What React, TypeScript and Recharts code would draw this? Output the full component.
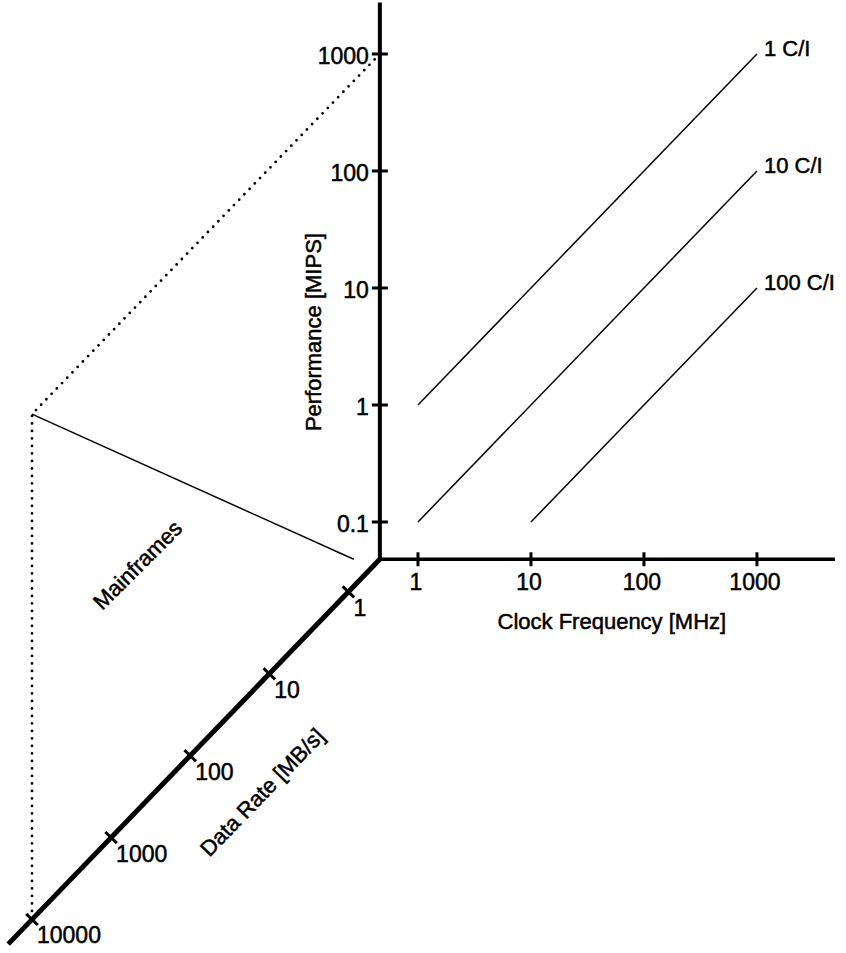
import { ComposedChart, XAxis, YAxis, Line, Scatter } from "recharts";

// tick values on the three log axes
const clockTicks = [1, 10, 100, 1000]; // MHz
const perfTicks = [0.1, 1, 10, 100, 1000]; // MIPS
const rateTicks = [1, 10, 100, 1000, 10000]; // MB/s

// where the axes meet, and how far each one runs
const clockRange = [0.46, 4900];
const perfRange = [0.048, 2750];
const rateRange = [0.4, 20000];

// cycles per instruction lines: MIPS = MHz / CPI
const cpiLabels = ["1 C/I", "10 C/I", "100 C/I"];
const cpiValues = [1, 10, 100];
const cpiClockFrom = [1, 1, 10];
const cpiClockTo = [1000, 1000, 1000];

// mainframes corner
const mainframePerf = 1000;
const mainframeRate = 10000;
const mainframeTailClock = 0.27;

const FONT = '"Liberation Sans", Arial, Helvetica, sans-serif';
const SKEW = 0.7; // plane decades moved per decade of data rate
const lg = Math.log10;

// project (MHz, MIPS, MB/s) onto the drawing plane, in decades
function pt(mhz: number, mips: number, mbs: number = rateRange[0]) {
  const d = SKEW * (lg(mbs) - lg(rateRange[0]));
  return { x: lg(mhz) - d, y: lg(mips) - d };
}

const fmt = (v: number) => String(v);

// scanned original has heavy type, thicken a little
const textStyle = { fontFamily: FONT, fill: "#000", stroke: "#000", strokeWidth: 0.5 };

function PerfTick(p: any) {
  const { cx, cy, payload } = p;
  return (
    <g>
      <line x1={cx - 8} y1={cy} x2={cx + 8} y2={cy} stroke="#000" strokeWidth={3} />
      <text x={cx - 11} y={cy + 10} textAnchor="end" fontSize={23} {...textStyle}>
        {payload.label}
      </text>
    </g>
  );
}

function ClockTick(p: any) {
  const { cx, cy, payload } = p;
  return (
    <g>
      <line x1={cx} y1={cy - 7} x2={cx} y2={cy + 7} stroke="#000" strokeWidth={3} />
      <text x={cx - 2} y={cy + 31} textAnchor="middle" fontSize={23} {...textStyle}>
        {payload.label}
      </text>
    </g>
  );
}

function RateTick(p: any) {
  const { cx, cy, payload } = p;
  const nx = 0.721 * 8;
  const ny = 0.693 * 8;
  return (
    <g>
      <line x1={cx - nx} y1={cy - ny} x2={cx + nx} y2={cy + ny} stroke="#000" strokeWidth={3} />
      <text x={cx + 5} y={cy + 24} textAnchor="start" fontSize={23} {...textStyle}>
        {payload.label}
      </text>
    </g>
  );
}

function Caption(p: any) {
  const { cx, cy, payload } = p;
  const x = cx + (payload.dx || 0);
  const y = cy + (payload.dy || 0);
  return (
    <text
      x={x}
      y={y}
      textAnchor={payload.anchor || "start"}
      transform={payload.angle ? `rotate(${payload.angle} ${x} ${y})` : undefined}
      fontSize={22}
      {...textStyle}
    >
      {payload.text}
    </text>
  );
}

export default function App() {
  const c0 = clockRange[0];
  const p0 = perfRange[0];
  const origin = pt(c0, p0);

  const clockAxis = [origin, pt(clockRange[1], p0)];
  const perfAxis = [origin, pt(c0, perfRange[1])];
  const rateAxis = [origin, pt(c0, p0, rateRange[1])];

  const cpiLines = cpiValues.map((c, i) => [
    pt(cpiClockFrom[i], cpiClockFrom[i] / c),
    pt(cpiClockTo[i], cpiClockTo[i] / c),
  ]);

  const corner = pt(c0, mainframePerf, mainframeRate);
  const dotted = [pt(c0, mainframePerf), corner, pt(c0, p0, mainframeRate)];
  const mainframeLine = [corner, pt(mainframeTailClock, p0)];

  const perfTickData = perfTicks.map((t) => ({ ...pt(c0, t), label: fmt(t) }));
  const clockTickData = clockTicks.map((t) => ({ ...pt(t, p0), label: fmt(t) }));
  const rateTickData = rateTicks.map((t) => ({ ...pt(c0, p0, t), label: fmt(t) }));

  const captions = [
    ...cpiLabels.map((text, i) => ({
      ...pt(cpiClockTo[i], cpiClockTo[i] / cpiValues[i]),
      text,
      dx: 7,
      dy: 2,
    })),
    { ...pt(c0, 4.2), text: "Performance [MIPS]", dx: -59, dy: 0, angle: -90, anchor: "middle" },
    { ...pt(52, p0), text: "Clock Frequency [MHz]", dx: 0, dy: 70, anchor: "middle" },
    { ...pt(c0, p0, 60), text: "Data Rate [MB/s]", dx: 60, dy: 60, angle: -46, anchor: "middle" },
    { ...pt(c0, p0, 13.5), text: "Mainframes", dx: -116, dy: -114, angle: -45, anchor: "middle" },
  ];

  return (
    <div style={{ position: "absolute", left: 0, top: 0, background: "#fff" }}>
      <ComposedChart width={846} height={953} margin={{ top: 0, right: 0, bottom: 0, left: 0 }}>
        <XAxis type="number" dataKey="x" domain={[-3.699, 3.788]} allowDataOverflow hide />
        <YAxis type="number" dataKey="y" domain={[-4.684, 3.4615]} allowDataOverflow hide />

        <Line data={perfAxis} dataKey="y" stroke="#000" strokeWidth={4} dot={false} activeDot={false} isAnimationActive={false} />
        <Line data={clockAxis} dataKey="y" stroke="#000" strokeWidth={3.5} dot={false} activeDot={false} isAnimationActive={false} />
        <Line data={rateAxis} dataKey="y" stroke="#000" strokeWidth={5} dot={false} activeDot={false} isAnimationActive={false} />

        {cpiLines.map((seg, i) => (
          <Line key={i} data={seg} dataKey="y" stroke="#000" strokeWidth={1.5} dot={false} activeDot={false} isAnimationActive={false} />
        ))}

        <Line
          data={dotted}
          dataKey="y"
          stroke="#000"
          strokeWidth={2.8}
          strokeDasharray="0 7.5"
          strokeLinecap="round"
          dot={false}
          activeDot={false}
          isAnimationActive={false}
        />
        <Line data={mainframeLine} dataKey="y" stroke="#000" strokeWidth={1.5} dot={false} activeDot={false} isAnimationActive={false} />

        <Scatter data={perfTickData} shape={PerfTick} isAnimationActive={false} />
        <Scatter data={clockTickData} shape={ClockTick} isAnimationActive={false} />
        <Scatter data={rateTickData} shape={RateTick} isAnimationActive={false} />
        <Scatter data={captions} shape={Caption} isAnimationActive={false} />
      </ComposedChart>
    </div>
  );
}
